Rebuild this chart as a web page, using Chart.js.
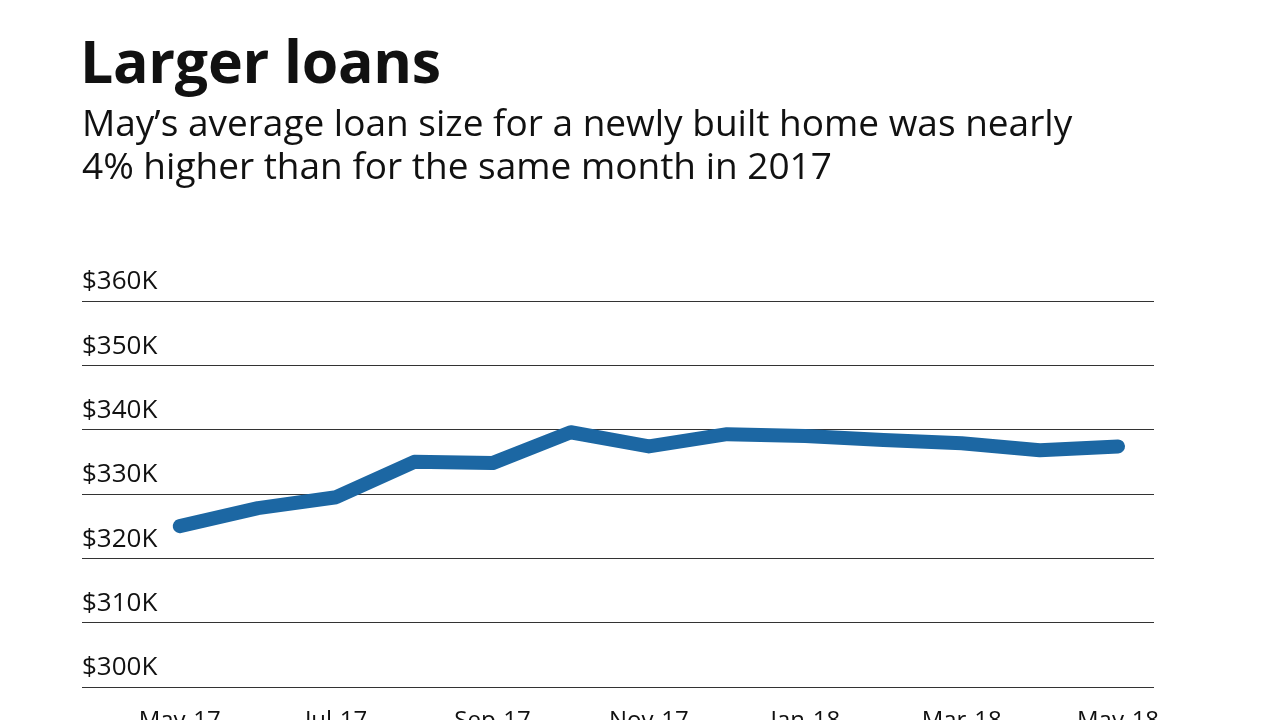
<!DOCTYPE html>
<html><head><meta charset="utf-8">
<script src="https://cdn.jsdelivr.net/npm/chart.js@4"></script>
<style>
body{margin:0;width:1280px;height:720px;overflow:hidden;background:#fff;font-family:"Open Sans",sans-serif;color:#111}
#t{position:absolute;left:80px;top:20px;font-size:59px;font-weight:700;margin:0;letter-spacing:-0.3px}
#s{position:absolute;left:82px;top:100px;font-size:37px;line-height:43px;margin:0;width:1190px}
#wrap{position:absolute;left:0;top:0;width:1280px;height:720px}
</style></head><body>
<div id="wrap"><canvas id="c"></canvas></div>
<h1 id="t">Larger loans</h1>
<p id="s">May’s average loan size for a newly built home was nearly<br>4% higher than for the same month in 2017</p>
<script>
const months = ['May-17','Jun-17','Jul-17','Aug-17','Sep-17','Oct-17','Nov-17','Dec-17','Jan-18','Feb-18','Mar-18','Apr-18','May-18'];
const loanK = [325.0,327.8,329.5,335.0,334.8,339.6,337.4,339.3,339.0,338.4,337.9,336.8,337.4];
const yTicks = [300,310,320,330,340,350,360];

const tickAbove = {
  id:'tickAbove',
  afterDraw(chart){
    const {ctx, scales:{y}, chartArea} = chart;
    ctx.save();
    ctx.font = '26px "Open Sans"';
    ctx.fillStyle = '#111';
    ctx.textBaseline = 'bottom';
    yTicks.forEach(v => ctx.fillText('$' + v + 'K', chartArea.left, y.getPixelForValue(v) - 6));
    ctx.restore();
  }
};

new Chart(document.getElementById('c'), {
  type:'line',
  data:{datasets:[{data: loanK.map((v,i)=>({x:i,y:v})), borderColor:'#1c67a3', borderWidth:14,
    borderCapStyle:'round', borderJoinStyle:'round', pointRadius:0, tension:0}]},
  options:{
    responsive:true, maintainAspectRatio:false, animation:false,
    layout:{padding:{top:301,left:82,right:126,bottom:0}},
    plugins:{legend:{display:false},tooltip:{enabled:false}},
    scales:{
      x:{type:'linear', min:-1.25, max:12.46,
        afterBuildTicks: s => { s.ticks = [0,2,4,6,8,10,12].map(v=>({value:v})); },
        afterFit: s => { s.height = 33; },
        grid:{display:false}, border:{display:false},
        ticks:{padding:12, color:'#111', font:{family:'Open Sans', size:24}, maxRotation:0,
          callback: v => months[v]}},
      y:{min:300, max:360, afterBuildTicks: s => { s.ticks = yTicks.map(v=>({value:v})); },
        afterFit: s => { s.width = 0; },
        ticks:{display:false}, border:{display:false},
        grid:{color:'#333', lineWidth:1, drawTicks:false}}
    }
  },
  plugins:[tickAbove]
});
</script>
</body></html>
